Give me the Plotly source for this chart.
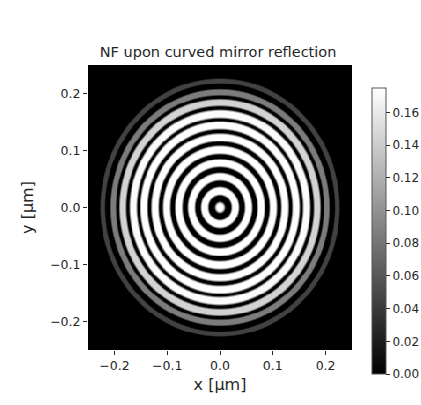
import numpy as np
import plotly.graph_objects as go

# ---- values ----
x_range = [-0.25, 0.25]
y_range = [-0.25, 0.25]
n_pix = 301
# radii (um) of the bright rings, centre spot first, and their peak intensity
ring_radii = [0.0, 0.029, 0.054, 0.078, 0.101, 0.123, 0.144, 0.164, 0.184, 0.202, 0.222]
ring_peaks = [0.175, 0.175, 0.175, 0.175, 0.175, 0.175, 0.175, 0.172, 0.145, 0.085, 0.045]
ring_halfwidth = [0.011, 0.0085, 0.0085, 0.0085, 0.0085, 0.0085, 0.0085, 0.0085, 0.0078, 0.0065, 0.0055]
x_ticks = [-0.2, -0.1, 0.0, 0.1, 0.2]
y_ticks = [-0.2, -0.1, 0.0, 0.1, 0.2]
cbar_ticks = [0.00, 0.02, 0.04, 0.06, 0.08, 0.10, 0.12, 0.14, 0.16]
z_min, z_max = 0.0, 0.175

# ---- build the intensity map from the ring table ----
xs = np.linspace(x_range[0], x_range[1], n_pix)
ys = np.linspace(y_range[0], y_range[1], n_pix)
X, Y = np.meshgrid(xs, ys)
R = np.hypot(X, Y)
Z = np.zeros_like(R)
for r0, p, w in zip(ring_radii, ring_peaks, ring_halfwidth):
    band = np.clip(1.4 * (1 - ((R - r0) / w) ** 2), 0, 1)
    Z = np.maximum(Z, p * band)

txt = "#262626"
font_family = "DejaVu Sans, sans-serif"

fig = go.Figure(go.Heatmap(
    x=xs, y=ys, z=Z,
    zmin=z_min, zmax=z_max,
    colorscale=[[0, "black"], [1, "white"]],
    colorbar=dict(
        thickness=14, thicknessmode="pixels",
        len=286, lenmode="pixels",
        x=1.076, xanchor="left", xpad=0,
        y=0.4175, yanchor="middle", ypad=0,
        outlinewidth=1, outlinecolor="#555555",
        tickvals=cbar_ticks, ticktext=[f"{v:.2f}" for v in cbar_ticks],
        ticks="outside", ticklen=4, tickcolor=txt,
        tickfont=dict(size=12, color=txt, family=font_family),
    ),
    hoverinfo="skip",
))

fig.update_layout(
    width=421, height=405,
    margin=dict(l=88, r=69, t=65, b=55, autoexpand=False),
    paper_bgcolor="white", plot_bgcolor="black",
    font=dict(family=font_family, color=txt),
    title=dict(text="NF upon curved mirror reflection", x=0.518, xanchor="center",
               y=1 - 52 / 405, yanchor="middle",
               font=dict(size=14.5, color=txt, family=font_family)),
)
fig.update_xaxes(
    range=x_range, tickvals=x_ticks, ticktext=[f"{v:.1f}".replace("-", "\u2212") for v in x_ticks],
    ticks="outside", ticklen=4, tickcolor=txt, showgrid=False, zeroline=False, showline=False,
    tickfont=dict(size=12.5, color=txt), title=dict(text="x [μm]", font=dict(size=16, color=txt), standoff=6),
)
fig.update_yaxes(
    range=y_range, tickvals=y_ticks, ticktext=[f"{v:.1f}".replace("-", "\u2212") for v in y_ticks],
    ticks="outside", ticklen=4, tickcolor=txt, showgrid=False, zeroline=False, showline=False,
    tickfont=dict(size=12.5, color=txt), title=dict(text="y [μm]", font=dict(size=16, color=txt), standoff=12),
)

fig.write_html("out.html")
